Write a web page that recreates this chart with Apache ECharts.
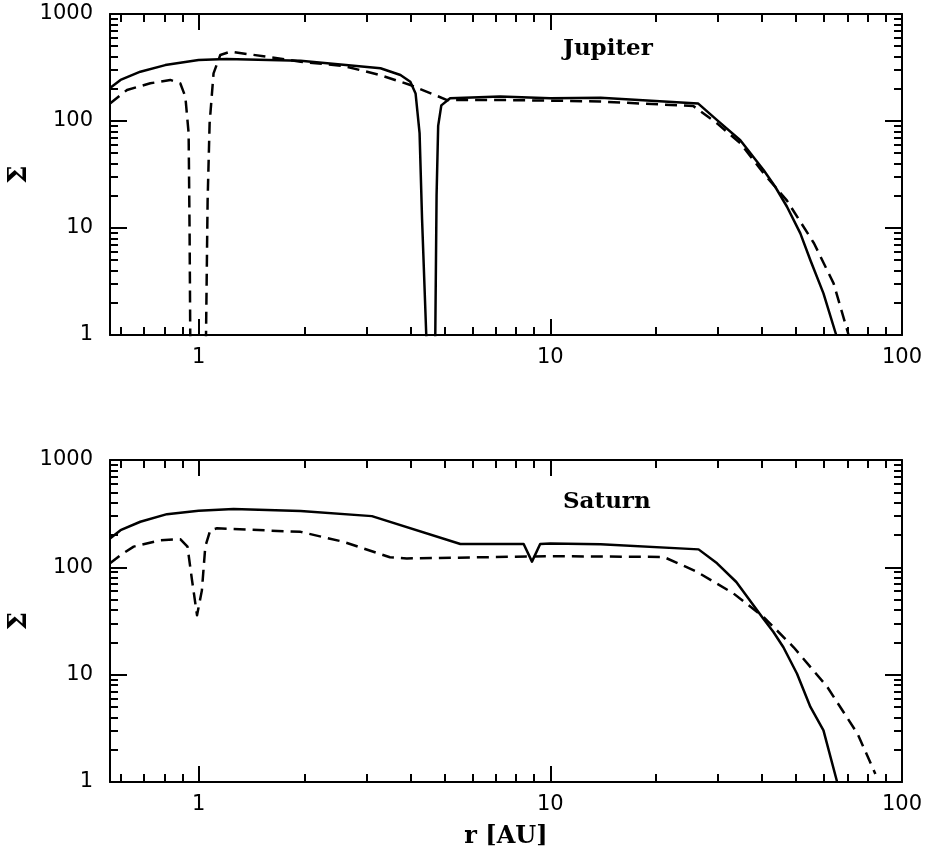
<!DOCTYPE html>
<html>
<head>
<meta charset="utf-8">
<script src="https://cdn.jsdelivr.net/npm/echarts@6/dist/echarts.min.js"></script>
<style>
html,body{margin:0;padding:0;background:#fff;}
#c{width:927px;height:859px;}
</style>
</head>
<body>
<div id="c"></div>
<script>
// ---- Data (r [AU], Sigma) ----
const jupiterSolidR = [0.56,0.6,0.683,0.804,1.0,1.2,1.95,3.29,3.75,4.0,4.14,4.25,4.32,4.44,4.50,4.57,4.65,4.71,4.75,4.80,4.90,5.19,7.2,10,13.9,26.3,29.8,34.7,40.4,43.6,47.1,51.4,54.9,59.8,65];
const jupiterSolidS = [203,242,289,333,372,380,366,311,269,233,181,77,12,1,0.3,0.05,0.3,1,20,90,140,163,169,163,165,146,102,66,34.8,24.3,15.8,8.9,5.0,2.45,1.0];

const jupiterDashR = [0.56,0.6,0.626,0.729,0.831,0.887,0.917,0.937,0.943,0.947,0.97,1.02,1.05,1.061,1.075,1.103,1.153,1.231,1.565,1.95,2.58,3.28,4.0,5.09,7.2,10,13.9,25.5,29.8,34.7,40.4,47.1,56.2,63.9,70.5];
const jupiterDashS = [146,175,195,225,242,225,169,77,9,1,0.05,0.05,1,18,95,279,414,444,399,358,327,269,217,157,157,155,152,138,95,62,32.5,18,7.2,3.04,1.0];

const saturnSolidR = [0.56,0.6,0.683,0.813,1.0,1.257,1.95,3.11,5.55,8.4,8.87,9.36,10,13.9,26.4,29.8,33.8,40.4,43.1,46.0,50.3,54.9,59.8,65.4];
const saturnSolidS = [186,222,266,313,337,349,334,300,165,165,113,165,167,164,147,109,73,33,25,18,10.2,5.0,3.03,1.0];

const saturnDashR = [0.56,0.6,0.654,0.778,0.887,0.93,0.958,0.99,1.022,1.045,1.08,1.128,1.95,2.58,3.5,3.91,10,21.0,26.1,33.2,40.4,49.2,61.3,74.8,84];
const saturnDashS = [109,130,156,179,183,156,76,35.8,61,156,222,231,214,173,124,121,127,125,91,57,34.5,18,7.7,2.8,1.19];

const panelNames = ['Jupiter', 'Saturn'];
const xMajorTicks = [1, 10, 100];
const xMinorTicks = [0.6,0.7,0.8,0.9,2,3,4,5,6,7,8,9,20,30,40,50,60,70,80,90];
const yMajorTicks = [1, 10, 100, 1000];
const yMinorTicks = [2,3,4,5,6,7,8,9,20,30,40,50,60,70,80,90,200,300,400,500,600,700,800,900];
const xLabel = 'r [AU]';
const yLabel = 'Σ';

function zip(a, b) { return a.map((v, i) => [v, b[i]]); }

// ---- Layout ----
const grids = [
  {left: 110, top: 14, width: 792, height: 321},
  {left: 110, top: 460, width: 792, height: 322}
];
const XMIN = 0.56, XMAX = 100, YMIN = 1, YMAX = 1000;
const lineStyleAxis = {color: '#000', width: 2};
const numFont = {color: '#000', fontFamily: 'DejaVu Sans', fontSize: 21, formatter: v => String(Math.round(v))};

const xAxes = [], yAxes = [];
grids.forEach((g, gi) => {
  const base = {type: 'log', gridIndex: gi, min: XMIN, max: XMAX, logBase: 10, splitLine: {show: false}};
  xAxes.push(Object.assign({}, base, {
    position: 'bottom',
    axisLine: {show: true, lineStyle: lineStyleAxis},
    axisTick: {show: true, inside: true, length: 16, lineStyle: lineStyleAxis, customValues: xMajorTicks},
    axisLabel: {show: true, customValues: xMajorTicks, margin: 12, ...numFont},
    name: gi === 1 ? xLabel : '',
    nameLocation: 'middle', nameGap: 43,
    nameTextStyle: {color: '#000', fontFamily: 'DejaVu Serif', fontSize: 24, fontWeight: 'bold'}
  }));
  xAxes.push(Object.assign({}, base, {
    position: 'bottom',
    axisLine: {show: false},
    axisTick: {show: true, inside: true, length: 8, lineStyle: lineStyleAxis, customValues: xMinorTicks},
    axisLabel: {show: false}
  }));
  xAxes.push(Object.assign({}, base, {
    position: 'top',
    axisLine: {show: true, lineStyle: lineStyleAxis},
    axisTick: {show: true, inside: true, length: 16, lineStyle: lineStyleAxis, customValues: xMajorTicks},
    axisLabel: {show: false}
  }));
  xAxes.push(Object.assign({}, base, {
    position: 'top',
    axisLine: {show: false},
    axisTick: {show: true, inside: true, length: 8, lineStyle: lineStyleAxis, customValues: xMinorTicks},
    axisLabel: {show: false}
  }));

  const ybase = {type: 'log', gridIndex: gi, min: YMIN, max: YMAX, logBase: 10, splitLine: {show: false}};
  yAxes.push(Object.assign({}, ybase, {
    position: 'left',
    axisLine: {show: true, lineStyle: lineStyleAxis},
    axisTick: {show: true, inside: true, length: 17, lineStyle: lineStyleAxis, customValues: yMajorTicks},
    axisLabel: {show: true, customValues: yMajorTicks, margin: 17, ...numFont},
    name: yLabel, nameLocation: 'middle', nameGap: 78, nameRotate: 90, nameMoveOverlap: false,
    nameTextStyle: {color: '#000', fontFamily: 'DejaVu Serif', fontSize: 26, fontWeight: 'bold'}
  }));
  yAxes.push(Object.assign({}, ybase, {
    position: 'left',
    axisLine: {show: false},
    axisTick: {show: true, inside: true, length: 8, lineStyle: lineStyleAxis, customValues: yMinorTicks},
    axisLabel: {show: false}
  }));
  yAxes.push(Object.assign({}, ybase, {
    position: 'right',
    axisLine: {show: true, lineStyle: lineStyleAxis},
    axisTick: {show: true, inside: true, length: 17, lineStyle: lineStyleAxis, customValues: yMajorTicks},
    axisLabel: {show: false}
  }));
  yAxes.push(Object.assign({}, ybase, {
    position: 'right',
    axisLine: {show: false},
    axisTick: {show: true, inside: true, length: 8, lineStyle: lineStyleAxis, customValues: yMinorTicks},
    axisLabel: {show: false}
  }));
});

function lineSeries(gi, data, dashed) {
  return {
    type: 'line',
    xAxisIndex: gi * 4,
    yAxisIndex: gi * 4,
    data: data,
    symbol: 'none',
    smooth: false,
    clip: true,
    animation: false,
    lineStyle: {color: '#000', width: 2.5, type: dashed ? [12, 7] : 'solid', join: 'round'}
  };
}

const titleStyle = {color: '#000', fontFamily: 'DejaVu Serif', fontSize: 23, fontWeight: 'bold'};
const option = {
  animation: false,
  backgroundColor: '#fff',
  title: [
    {text: panelNames[0], left: 558, top: 33, textStyle: titleStyle},
    {text: panelNames[1], left: 558, top: 486, textStyle: titleStyle}
  ],
  grid: grids.map(g => Object.assign({containLabel: false, outerBoundsMode: 'none'}, g)),
  xAxis: xAxes,
  yAxis: yAxes,
  series: [
    lineSeries(0, zip(jupiterSolidR, jupiterSolidS), false),
    lineSeries(0, zip(jupiterDashR, jupiterDashS), true),
    lineSeries(1, zip(saturnSolidR, saturnSolidS), false),
    lineSeries(1, zip(saturnDashR, saturnDashS), true)
  ]
};

const chart = echarts.init(document.getElementById('c'), null, {renderer: 'canvas'});
chart.setOption(option);
</script>
</body>
</html>
